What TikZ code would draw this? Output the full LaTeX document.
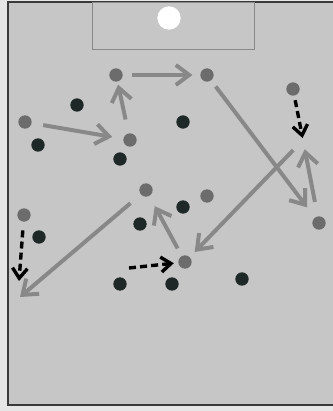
\documentclass[tikz,border=0pt]{standalone}
\usetikzlibrary{arrows.meta}

\definecolor{cancha}{HTML}{C6C6C6}
\definecolor{afuera}{HTML}{E6E6E6}
\definecolor{borde}{HTML}{3A3A3A}
\definecolor{atac}{HTML}{6C6C6C}
\definecolor{defe}{HTML}{1E2826}
\definecolor{flecha}{HTML}{888888}

\begin{document}
\begin{tikzpicture}[x=0.03cm, y=-0.03cm,
  atacante/.style={circle, fill=atac, minimum size=0.4cm, inner sep=0pt},
  defensor/.style={circle, fill=defe, minimum size=0.4cm, inner sep=0pt},
  pase/.style={draw=flecha, line width=3.4pt, -{Straight Barb[length=4mm, width=6mm]}},
  carrera/.style={draw=black, line width=2.9pt, dash pattern=on 6pt off 3.5pt,
    -{Straight Barb[length=3mm, width=4.5mm]}}]
  \useasboundingbox (0,0) rectangle (333,411);
  % cancha
  \fill[afuera] (0,0) rectangle (333,411);
  \fill[cancha] (8,2) rectangle (333,405);
  \draw[borde, line width=1.6pt] (333,2) -- (8,2) -- (8,405) -- (333,405);
  % area y balon
  \draw[atac!80, line width=0.6pt] (92,2) rectangle (254,49);
  \node[circle, fill=white, minimum size=0.7cm, inner sep=0pt] (balon) at (169,18) {};
  % atacantes
  \node[atacante] (j1) at (116,75) {};
  \node[atacante] (j2) at (207,75) {};
  \node[atacante] (j3) at (293,89) {};
  \node[atacante] (j4) at (25,122) {};
  \node[atacante] (j5) at (130,140) {};
  \node[atacante] (j6) at (146,190) {};
  \node[atacante] (j7) at (207,196) {};
  \node[atacante] (j8) at (319,223) {};
  \node[atacante] (j9) at (24,215) {};
  \node[atacante] (j10) at (185,262) {};
  % defensores
  \node[defensor] (d1) at (77,105) {};
  \node[defensor] (d2) at (183,122) {};
  \node[defensor] (d3) at (38,145) {};
  \node[defensor] (d4) at (120,159) {};
  \node[defensor] (d5) at (183,207) {};
  \node[defensor] (d6) at (140,224) {};
  \node[defensor] (d7) at (39,237) {};
  \node[defensor] (d8) at (120,284) {};
  \node[defensor] (d9) at (172,284) {};
  \node[defensor] (d10) at (242,279) {};
  % puntos libres
  \coordinate (r) at (303,140);
  \coordinate (e) at (20,297);
  \coordinate (f) at (19,281);
  \coordinate (g) at (129,268);
  % pases
  \draw[pase, shorten <=8.1pt, shorten >=6.5pt] (j1) -- (j2);
  \draw[pase, shorten <=12pt, shorten >=2.5pt] (j5) -- (j1);
  \draw[pase, shorten <=9.8pt, shorten >=9.5pt] (j4) -- (j5);
  \draw[pase, shorten <=6.4pt, shorten >=10.8pt] (j2) -- (j8);
  \draw[pase, shorten <=12pt, shorten >=6pt] (r) -- (j10);
  \draw[pase, shorten <=12.4pt, shorten >=8pt] (j8) -- (r);
  \draw[pase, shorten <=7.3pt, shorten >=9.8pt] (j10) -- (j6);
  \draw[pase, shorten <=11.5pt] (j6) -- (e);
  % desmarques
  \draw[carrera, shorten <=3.8pt, shorten >=1.7pt] (j3) -- (r);
  \draw[carrera, shorten <=7.3pt] (j9) -- (f);
  \draw[carrera, shorten >=3.7pt] (g) -- (j10);
\end{tikzpicture}
\end{document}
